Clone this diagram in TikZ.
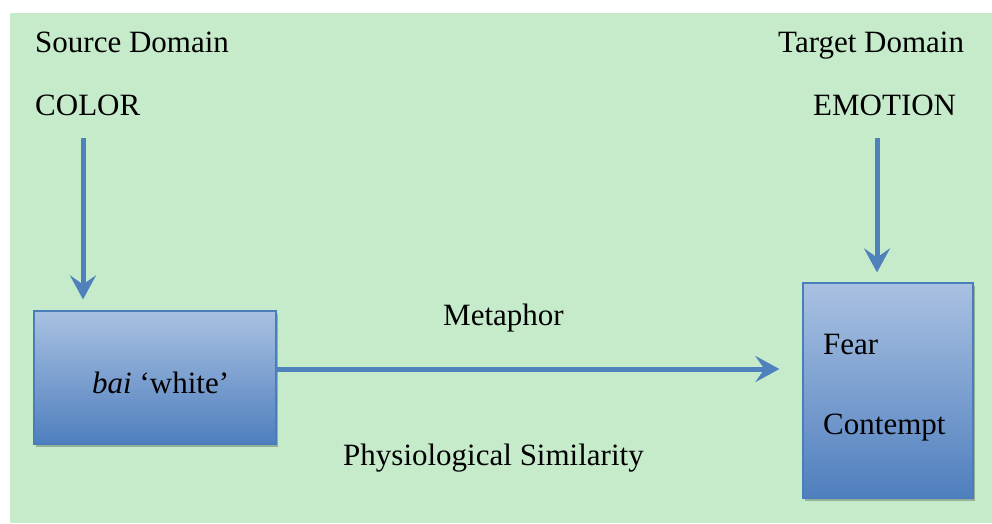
\documentclass[tikz,border=0pt]{standalone}
\usepackage{fontspec}
\setmainfont{Liberation Serif}
\usetikzlibrary{arrows.meta,shadows}
\definecolor{bggreen}{HTML}{C6EBCB}
\definecolor{boxtop}{HTML}{A9C1E2}
\definecolor{boxbot}{HTML}{4F7FBE}
\definecolor{boxline}{HTML}{4A7EBB}
\definecolor{arrowblue}{HTML}{4F81BD}
\tikzset{
  lbl/.style={font=\fontsize{31}{37}\selectfont, inner sep=0pt, anchor=base west},
  conceptbox/.style={draw=boxline, line width=1.2pt, top color=boxtop, bottom color=boxbot,
    inner sep=0pt, drop shadow={shadow xshift=1.5pt, shadow yshift=-2.5pt, fill=black, opacity=0.25}},
  maparrow/.style={draw=arrowblue, line width=5pt,
    -{Stealth[length=24pt, width=26pt, inset=9pt]}}
}
\begin{document}
\begin{tikzpicture}[x=1pt, y=-1pt]
  \useasboundingbox (0,0) rectangle (992,523);
  % background panel
  \fill[bggreen] (10,13) rectangle (992,523);

  % domain headings
  \node[lbl] (srcdom) at (35,52) {Source Domain};
  \node[lbl] (color) at (35,115) {COLOR};
  \node[lbl] (tgtdom) at (778,52) {Target Domain};
  \node[lbl] (emotion) at (813,115) {EMOTION};

  % concept boxes
  \node[conceptbox, minimum width=242pt, minimum height=133pt] (bai) at (155,377.5) {};
  \node[conceptbox, minimum width=170pt, minimum height=215pt] (fear) at (888,390.5) {};

  % box texts
  \node[lbl] (baitext) at (92,393) {\textit{bai} ‘white’};
  \node[lbl] (feartext) at (823,354) {Fear};
  \node[lbl] (contempttext) at (823,434) {Contempt};

  % mapping labels
  \node[lbl] (metaphor) at (443,325) {Metaphor};
  \node[lbl] (physsim) at (343,465) {Physiological Similarity};

  % arrows
  \coordinate (srcstart) at (83,138);
  \coordinate (tgtstart) at (877,138);
  \coordinate (mapstart) at (276,369);
  \draw[maparrow, shorten >=11pt] (srcstart) -- (srcstart |- bai.north);
  \draw[maparrow, shorten >=10pt] (tgtstart) -- (tgtstart |- fear.north);
  \draw[maparrow, shorten >=23pt] (mapstart) -- (mapstart -| fear.west);
\end{tikzpicture}
\end{document}
